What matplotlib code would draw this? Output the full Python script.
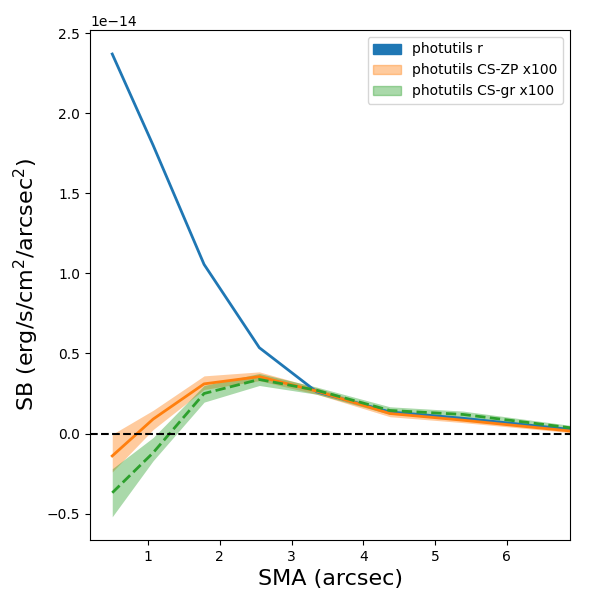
import matplotlib
matplotlib.use("Agg")
import matplotlib.pyplot as plt
import numpy as np
from matplotlib.patches import Patch

sma = [0.50, 1.07, 1.78, 2.55, 3.35, 4.37, 5.39, 6.90]
scale = 1e-14
blue = [2.37, 1.80, 1.056, 0.536, 0.26, 0.135, 0.095, 0.025]
orange = [-0.14, 0.09, 0.31, 0.355, 0.265, 0.125, 0.083, 0.015]
orange_lo = [-0.24, 0.025, 0.275, 0.33, 0.245, 0.105, 0.068, 0.005]
orange_hi = [-0.005, 0.145, 0.36, 0.385, 0.285, 0.14, 0.098, 0.028]
green = [-0.37, -0.12, 0.25, 0.3375, 0.27, 0.144, 0.119, 0.035]
green_lo = [-0.52, -0.17, 0.196, 0.30, 0.245, 0.12, 0.10, 0.02]
green_hi = [-0.22, -0.025, 0.30, 0.375, 0.29, 0.167, 0.14, 0.05]

x = np.array(sma)
s = lambda a: np.array(a) * scale

fig = plt.figure(figsize=(6, 6), dpi=100)
ax = fig.add_axes([0.15, 0.1, 0.80, 0.85])

ax.plot(x, s(blue), color='C0', lw=2)
ax.fill_between(x, s(orange_lo), s(orange_hi), color='C1', alpha=0.4, lw=0)
ax.plot(x, s(orange), color='C1', lw=2)
ax.fill_between(x, s(green_lo), s(green_hi), color='C2', alpha=0.4, lw=0)
ax.plot(x, s(green), color='C2', lw=2, ls='--')
ax.axhline(0, color='k', ls='--', lw=1.5)

ax.set_xlim(0.19, 6.88)
ax.set_ylim(-0.665e-14, 2.52e-14)
ax.set_xlabel('SMA (arcsec)', fontsize=16)
ax.set_ylabel('SB (erg/s/cm$^2$/arcsec$^2$)', fontsize=16)

handles = [Patch(color='C0', label='photutils r'),
           Patch(color='C1', alpha=0.4, label='photutils CS-ZP x100'),
           Patch(color='C2', alpha=0.4, label='photutils CS-gr x100')]
ax.legend(handles=handles, loc='upper right')

fig.savefig('out.png', dpi=100)
